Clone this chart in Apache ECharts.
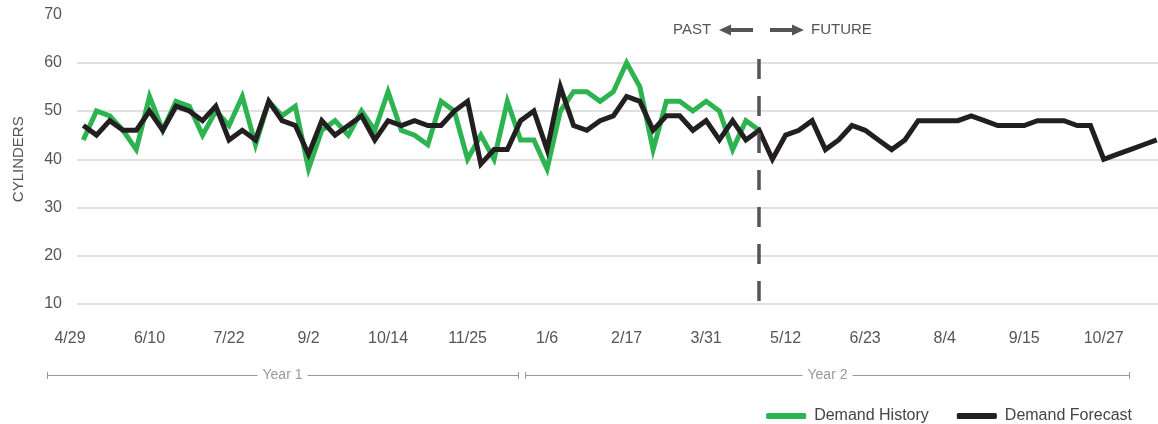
<!DOCTYPE html>
<html><head><meta charset="utf-8">
<script src="https://cdn.jsdelivr.net/npm/echarts@6/dist/echarts.min.js"></script>
<style>html,body{margin:0;padding:0;background:#fff}#c{width:1158px;height:424px}</style>
</head><body><div id="c"></div>
<script>
// x axis: weeks counted from 4/29 (week 0); a tick label every 6 weeks
const tickLabels = ['4/29','6/10','7/22','9/2','10/14','11/25','1/6','2/17','3/31','5/12','6/23','8/4','9/15','10/27'];
const labelStepWeeks = 6;
const axisMaxWeek = 81.87;

const historyStartWeek = 1;
const historyValues = [44,50,49,46,42,53,46,52,51,45,50,47,53,43,52,49,51,38,46,48,45,50,46,54,46,45,43,52,50,40,45,40,52,44,44,38,50,54,54,52,54,60,55,42,52,52,50,52,50,42,48,46];

const forecastStartWeek = 1;
const forecastValues = [47,45,48,46,46,50,46,51,50,48,51,44,46,44,52,48,47,41,48,45,47,49,44,48,47,48,47,47,50,52,39,42,42,48,50,42,55,47,46,48,49,53,52,46,49,49,46,48,44,48,44,46,40,45,46,48,42,44,47,46,44,42,44,48,48,48,48,49,48,47,47,47,48,48,48,47,47,40,41,42,43,44];

const yMin = 10, yMax = 70, yStep = 10;
const pastFutureWeek = 52;
const dividerTop = 60.8;

const seriesNames = ['Demand History','Demand Forecast'];
const colors = ['#2db350','#231f20'];

const FONT = '"Liberation Sans", Arial, Helvetica, sans-serif';
const toPairs = (vals, start) => vals.map((v, i) => [start + i, v]);

const chart = echarts.init(document.getElementById('c'), null, {renderer:'canvas'});

const arrowColor = '#555';
chart.setOption({
  animation: false,
  textStyle: {fontFamily: FONT},
  grid: [
    {left: 70, right: 0, top: 14.5, bottom: 120},
    {left: 77, right: 0, top: 14.5, bottom: 120}
  ],
  xAxis: [
    {type:'value', gridIndex:0, min:0, max:axisMaxWeek, interval:labelStepWeeks,
     axisLine:{show:false}, axisTick:{show:false}, splitLine:{show:false},
     axisLabel:{margin:27, fontSize:16, color:'#555', fontFamily:FONT,
       formatter: v => { const k = v / labelStepWeeks; return Number.isInteger(k) && tickLabels[k] ? tickLabels[k] : ''; }}},
    {type:'value', gridIndex:1, min:0, max:1, show:false}
  ],
  yAxis: [
    {type:'value', gridIndex:0, min:yMin, max:yMax, interval:yStep, show:false, splitLine:{show:false}},
    {type:'value', gridIndex:1, min:yMin, max:yMax, interval:yStep,
     axisLine:{show:false}, axisTick:{show:false},
     axisLabel:{margin:15, fontSize:16, color:'#555', fontFamily:FONT},
     splitLine:{show:true, showMaxLine:false, showMinLine:true, lineStyle:{color:'#e0e0e0', width:2}},
     name:'CYLINDERS', nameLocation:'middle', nameGap:51,
     nameTextStyle:{fontSize:15, color:'#555', fontFamily:FONT}}
  ],
  legend: {
    data: seriesNames, right: 21, top: 403, icon: 'roundRect', itemWidth: 40, itemHeight: 6,
    itemGap: 28, textStyle: {fontSize:16, color:'#444', fontFamily:FONT, padding:[0,0,0,3]}
  },
  series: [
    {name: seriesNames[0], type:'line', xAxisIndex:0, yAxisIndex:0, data: toPairs(historyValues, historyStartWeek),
     symbol:'none', color: colors[0], lineStyle:{width:5, color:colors[0], join:'miter', cap:'butt'}, z:2},
    {name: seriesNames[1], type:'line', xAxisIndex:0, yAxisIndex:0, data: toPairs(forecastValues, forecastStartWeek),
     symbol:'none', color: colors[1], lineStyle:{width:5, color:colors[1], join:'miter', cap:'butt'}, z:3, clip:true,
     markLine:{silent:true, symbol:['none','none'], label:{show:false},
       lineStyle:{type:[20,17], width:3.5, color:'#555'},
       emphasis:{disabled:true},
       data:[[{coord:[pastFutureWeek, dividerTop]},{coord:[pastFutureWeek, yMin]}]]}}
  ],
  graphic: [
    // PAST / FUTURE annotation
    {type:'text', left: 673, top: 22, style:{text:'PAST', fontSize:15, fill:'#555', fontFamily:FONT}},
    {type:'rect', shape:{x:729, y:28, width:24, height:4}, style:{fill:arrowColor}},
    {type:'polygon', shape:{points:[[719,30],[731,24.5],[731,35.5]]}, style:{fill:arrowColor}},
    {type:'rect', shape:{x:770, y:28, width:24, height:4}, style:{fill:arrowColor}},
    {type:'polygon', shape:{points:[[804,30],[792,24.5],[792,35.5]]}, style:{fill:arrowColor}},
    {type:'text', left: 811, top: 22, style:{text:'FUTURE', fontSize:15, fill:'#555', fontFamily:FONT}},
    // Year brackets
    {type:'line', shape:{x1:47, y1:375.5, x2:518.5, y2:375.5}, style:{stroke:'#9a9a9a', lineWidth:1}},
    {type:'line', shape:{x1:47.5, y1:372, x2:47.5, y2:379}, style:{stroke:'#9a9a9a', lineWidth:1}},
    {type:'line', shape:{x1:518.5, y1:372, x2:518.5, y2:379}, style:{stroke:'#9a9a9a', lineWidth:1}},
    {type:'text', x:282.5, y:375.5, z:10, style:{text:'Year 1', fontSize:14, fill:'#999', fontFamily:FONT,
      align:'center', verticalAlign:'middle', backgroundColor:'#fff', padding:[0,5]}},
    {type:'line', shape:{x1:525.5, y1:375.5, x2:1129.5, y2:375.5}, style:{stroke:'#9a9a9a', lineWidth:1}},
    {type:'line', shape:{x1:525.5, y1:372, x2:525.5, y2:379}, style:{stroke:'#9a9a9a', lineWidth:1}},
    {type:'line', shape:{x1:1129.5, y1:372, x2:1129.5, y2:379}, style:{stroke:'#9a9a9a', lineWidth:1}},
    {type:'text', x:827.5, y:375.5, z:10, style:{text:'Year 2', fontSize:14, fill:'#999', fontFamily:FONT,
      align:'center', verticalAlign:'middle', backgroundColor:'#fff', padding:[0,5]}}
  ]
});
</script></body></html>
